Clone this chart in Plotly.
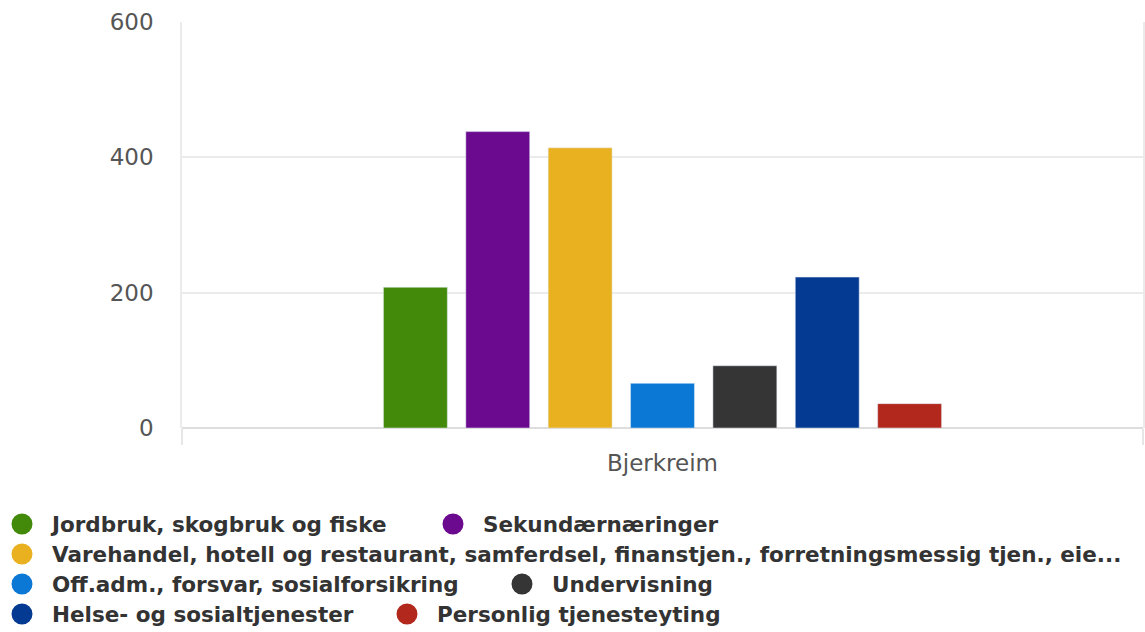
import plotly.graph_objects as go

categories = ["Bjerkreim"]
series_names = [
    "Jordbruk, skogbruk og fiske",
    "Sekundærnæringer",
    "Varehandel, hotell og restaurant, samferdsel, finanstjen., forretningsmessig tjen., eie...",
    "Off.adm., forsvar, sosialforsikring",
    "Undervisning",
    "Helse- og sosialtjenester",
    "Personlig tjenesteyting",
]
series_values = [208, 438, 414, 66, 92, 223, 36]
series_colors = ["#438a0b", "#6b0a8f", "#e9b01f", "#0b78d6", "#353535", "#053a93", "#b3281d"]
legend_rows = ["legend", "legend", "legend2", "legend3", "legend3", "legend4", "legend4"]
y_ticks = [0, 200, 400, 600]

W, H = 1145, 632
ML, MR, MT, MB = 182, 2, 22, 204
PW, PH = W - ML - MR, H - MT - MB

fig = go.Figure()
for name, val, col in zip(series_names, series_values, series_colors):
    fig.add_trace(go.Bar(x=categories, y=[val], name=name, marker_color=col,
                         showlegend=False, hoverinfo="y+name"))
for name, col, lg in zip(series_names, series_colors, legend_rows):
    fig.add_trace(go.Scatter(x=[None], y=[None], mode="markers", name=name,
                             marker=dict(symbol="circle", size=16, color=col,
                                         line=dict(color=col, width=5)),
                             legend=lg, showlegend=True))

legend_font = dict(family="DejaVu Sans", size=21.5, color="#333333", weight="bold")
row_y = [524, 554, 584, 614]

def leg(yp, ew):
    d = dict(orientation="h",
             x=(-8 - ML) / PW, xref="paper", xanchor="left",
             y=(H - MB - yp) / PH, yref="paper", yanchor="middle",
             font=legend_font, bgcolor="rgba(0,0,0,0)", itemwidth=50,
             tracegroupgap=0)
    if ew:
        d["entrywidth"] = ew
        d["entrywidthmode"] = "pixels"
    return d

fig.update_layout(
    width=W, height=H,
    paper_bgcolor="white", plot_bgcolor="white",
    margin=dict(l=ML, r=MR, t=MT, b=MB, autoexpand=False),
    barmode="group", bargap=0.4, bargroupgap=0.224,
    legend=leg(row_y[0], 366),
    legend2=leg(row_y[1], None),
    legend3=leg(row_y[2], 435),
    legend4=leg(row_y[3], 320),
    font=dict(family="DejaVu Sans", color="#555555"),
    showlegend=True,
)
fig.update_yaxes(range=[0, 600], tickvals=y_ticks, showgrid=True, gridcolor="#ebebeb",
                 gridwidth=1.5, zeroline=True, zerolinecolor="#dddddd", zerolinewidth=1.5,
                 showline=True, linecolor="#ebebeb", linewidth=1.5, mirror=True,
                 ticks="", ticklabelstandoff=22, automargin=False,
                 tickfont=dict(family="DejaVu Sans", size=23, color="#555555"))
fig.update_xaxes(type="category", showgrid=False, ticks="outside", tickson="boundaries",
                 ticklen=16, tickcolor="#e6e6e6", tickwidth=1.5, automargin=False,
                 ticklabelstandoff=19,
                 tickfont=dict(family="DejaVu Sans", size=23, color="#555555"))

fig.write_html("out.html", config={"displayModeBar": False},
               post_script="document.body.style.margin='0';document.body.style.overflow='hidden';")
